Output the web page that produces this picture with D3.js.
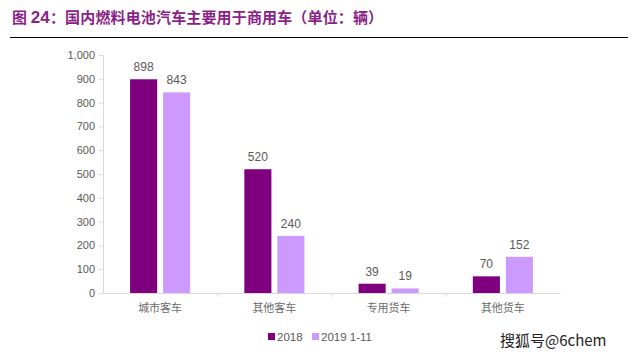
<!DOCTYPE html>
<html><head><meta charset="utf-8">
<script src="https://cdn.jsdelivr.net/npm/d3@7"></script>
<style>body{margin:0;background:#fff}svg{display:block}</style>
</head><body>
<svg id="c" width="637" height="359"></svg>
<script>
const categories = ["城市客车", "其他客车", "专用货车", "其他货车"];
const seriesNames = ["2018", "2019 1-11"];
const values2018 = [898, 520, 39, 70];
const values2019 = [843, 240, 19, 152];
const yTicks = [0, 100, 200, 300, 400, 500, 600, 700, 800, 900, 1000];
const colors = ["#7F007F", "#CC99FF"];

(function () {
const svg = d3.select("#c");
const font = "'Noto Sans CJK SC', 'Microsoft YaHei', sans-serif";

// title
const title = svg.append("text").attr("x", 12).attr("y", 23)
  .attr("font-family", font).attr("font-size", 15).attr("font-weight", "bold").attr("fill", "#8B1F88")
  .attr("letter-spacing", 0.15);
title.append("tspan").text("图 ");
title.append("tspan").attr("font-family", "Arial, 'Liberation Sans', sans-serif").attr("font-size", 17).text("24");
title.append("tspan").text("：国内燃料电池汽车主要用于商用车（单位：辆）");
svg.append("line").attr("x1", 10).attr("x2", 628).attr("y1", 37.5).attr("y2", 37.5)
  .attr("stroke", "#000").attr("stroke-width", 1.2);

const mLeft = 103, mRight = 560, mTop = 55, mBottom = 293;
const x = d3.scaleBand().domain(categories).range([mLeft, mRight]).paddingInner(0).paddingOuter(0);
const y = d3.scaleLinear().domain([0, 1000]).range([mBottom, mTop]);
const xs = d3.scaleBand().domain(seriesNames).range([0, x.bandwidth()]).paddingInner(0.18).paddingOuter(0.82);

const fmt = d3.format(",");
// y axis
const ya = svg.append("g").attr("transform", `translate(${mLeft},0)`)
  .call(d3.axisLeft(y).tickValues(yTicks).tickFormat(fmt).tickSize(4).tickPadding(4));
ya.select(".domain").attr("stroke", "#d9d9d9");
ya.selectAll(".tick line").attr("stroke", "#d9d9d9");
ya.selectAll("text").attr("fill", "#595959").attr("font-size", 11).attr("font-family", "Arial, 'Liberation Sans', sans-serif");

// x axis
const xa = svg.append("g").attr("transform", `translate(0,${mBottom})`)
  .call(d3.axisBottom(x).tickSize(0).tickPadding(11));
xa.select(".domain").attr("stroke", "#d9d9d9");
xa.selectAll("text").attr("fill", "#6b6b6b").attr("font-size", 11).attr("font-family", font);
// category boundary ticks
svg.append("g").selectAll("line").data(categories.slice(1))
  .join("line")
  .attr("x1", d => x(d) + 0.5).attr("x2", d => x(d) + 0.5)
  .attr("y1", mBottom).attr("y2", mBottom + 4).attr("stroke", "#d9d9d9");

const data = categories.map((c, i) => ({c, vals: [values2018[i], values2019[i]]}));
const groups = svg.append("g").selectAll("g").data(data).join("g")
  .attr("transform", d => `translate(${x(d.c)},0)`);
groups.selectAll("rect").data(d => d.vals.map((v, j) => ({v, s: seriesNames[j], j})))
  .join("rect")
  .attr("x", d => xs(d.s)).attr("width", xs.bandwidth())
  .attr("y", d => y(d.v)).attr("height", d => mBottom - y(d.v))
  .attr("fill", d => colors[d.j]);
groups.selectAll("text").data(d => d.vals.map((v, j) => ({v, s: seriesNames[j], j})))
  .join("text")
  .attr("x", d => xs(d.s) + xs.bandwidth() / 2).attr("y", d => y(d.v) - 8)
  .attr("text-anchor", "middle").attr("fill", "#595959").attr("font-size", 12)
  .attr("font-family", "Arial, 'Liberation Sans', sans-serif")
  .text(d => d.v);

// legend
const legend = svg.append("g").attr("transform", "translate(268,339)");
const lx = [0, 44];
seriesNames.forEach((s, i) => {
  const g = legend.append("g").attr("transform", `translate(${lx[i]},0)`);
  g.append("rect").attr("x", 0).attr("y", -6).attr("width", 7).attr("height", 7).attr("fill", colors[i]);
  g.append("text").attr("x", 9).attr("y", 1.5).attr("fill", "#595959").attr("font-size", 11.5)
    .attr("font-family", "Arial, 'Liberation Sans', sans-serif").text(s);
});

// watermark
svg.append("text").attr("x", 500).attr("y", 346).attr("font-size", 15)
  .attr("font-family", font).attr("fill", "#222").text("搜狐号@6chem");
})();
</script>
</body></html>
